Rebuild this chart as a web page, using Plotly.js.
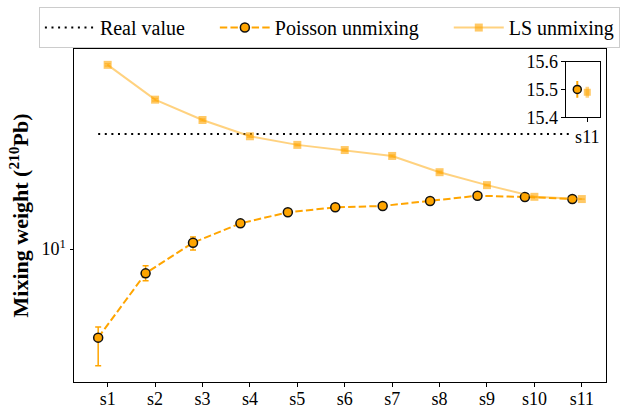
<!DOCTYPE html>
<html>
<head>
<meta charset="utf-8">
<script src="https://cdn.plot.ly/plotly-3.0.1.min.js"></script>
<style>body{margin:0;background:#fff}</style>
</head>
<body>
<div id="chart" style="width:620px;height:410px"></div>
<script>
// ---- data ----
const samples = ['s1','s2','s3','s4','s5','s6','s7','s8','s9','s10','s11'];
const poissonValues   = [4.60, 8.08, 10.57, 12.52, 13.79, 14.41, 14.58, 15.23, 15.95, 15.78, 15.50];
const poissonErrPlus  = [0.45, 0.55, 0.55, 0.15, 0.12, 0.10, 0.10, 0.08, 0.06, 0.05, 0.03];
const poissonErrMinus = [1.00, 0.50, 0.65, 0.15, 0.12, 0.10, 0.10, 0.08, 0.06, 0.05, 0.03];
const lsValues = [50.2, 37.0, 30.97, 26.85, 24.9, 23.8, 22.6, 19.6, 17.5, 15.8, 15.49];
const lsErr    = [0.5, 0.4, 0.3, 0.25, 0.2, 0.2, 0.2, 0.15, 0.1, 0.05, 0.02];
const realValue = 27.4;
const yTickVals = [10];
const yTickText = ['10<sup>1</sup>'];
const insetTickVals = [15.4, 15.5, 15.6];
const legendNames = ['Real value', 'Poisson unmixing', 'LS unmixing'];

// ---- positions derived from the category index ----
const idx = samples.map((_, i) => i);
const poissonX = idx.map(i => i - 0.2);
const lsX = idx.slice();
const last = samples.length - 1;
const pad = '\u00A0\u00A0\u00A0\u00A0\u00A0';

const FONT = 'Liberation Serif, Times New Roman, serif';
const ORANGE = '#FFA500';
const LS_LINE = 'rgba(255,165,0,0.5)';
const LS_MARK = 'rgba(255,165,0,0.6)';

const traces = [
  {
    name: legendNames[0] + pad, type: 'scatter', mode: 'lines',
    x: [poissonX[0], poissonX[last]], y: [realValue, realValue],
    line: {color: '#000', width: 2, dash: '2px,4.6px'},
    xaxis: 'x', yaxis: 'y', hoverinfo: 'skip'
  },
  {
    name: legendNames[1] + pad, type: 'scatter', mode: 'lines+markers',
    x: poissonX, y: poissonValues,
    line: {color: ORANGE, width: 2, dash: '7.4px,3.2px'},
    marker: {symbol: 'circle', size: 9, color: ORANGE, line: {color: '#111', width: 1.5}},
    error_y: {type: 'data', array: poissonErrPlus, arrayminus: poissonErrMinus, symmetric: false,
              color: ORANGE, thickness: 1.5, width: 3},
    xaxis: 'x', yaxis: 'y'
  },
  {
    name: legendNames[2], type: 'scatter', mode: 'lines+markers',
    x: lsX, y: lsValues,
    line: {color: LS_LINE, width: 2},
    marker: {symbol: 'square', size: 8, color: LS_MARK},
    error_y: {type: 'data', array: lsErr, color: LS_LINE, thickness: 1.5, width: 3},
    xaxis: 'x', yaxis: 'y'
  },
  // inset: s11 only
  {
    name: 'Poisson inset', type: 'scatter', mode: 'markers', showlegend: false,
    x: [poissonX[last]], y: [poissonValues[last]],
    marker: {symbol: 'circle', size: 8, color: ORANGE, line: {color: '#111', width: 1.5}},
    error_y: {type: 'data', array: [poissonErrPlus[last]], color: ORANGE, thickness: 2, width: 0},
    xaxis: 'x2', yaxis: 'y2'
  },
  {
    name: 'LS inset', type: 'scatter', mode: 'markers', showlegend: false,
    x: [lsX[last]], y: [lsValues[last]],
    marker: {symbol: 'square', size: 7, color: LS_MARK},
    error_y: {type: 'data', array: [lsErr[last]], color: LS_LINE, thickness: 3.5, width: 0},
    xaxis: 'x2', yaxis: 'y2'
  }
];

const axisCommon = {
  showline: true, linecolor: '#000', linewidth: 1, mirror: true,
  ticks: 'outside', ticklen: 3.5, tickwidth: 1, tickcolor: '#000',
  showgrid: false, zeroline: false,
  tickfont: {family: FONT, size: 18, color: '#000'}
};

const layout = {
  width: 620, height: 410,
  margin: {l: 74, r: 14, t: 49, b: 28, autoexpand: false},
  paper_bgcolor: '#fff', plot_bgcolor: '#fff',
  font: {family: FONT, size: 18, color: '#000'},
  showlegend: true,
  legend: {
    orientation: 'h', x: -0.066, xanchor: 'left', y: 1.126, yanchor: 'top',
    bordercolor: '#cccccc', borderwidth: 1, bgcolor: '#fff',
    font: {family: FONT, size: 20, color: '#000'},
    itemwidth: 50
  },
  xaxis: Object.assign({}, axisCommon, {
    domain: [0, 1], range: [-0.71, 10.51],
    tickmode: 'array', tickvals: idx, ticktext: samples,
    ticklabelstandoff: -3
  }),
  yaxis: Object.assign({}, axisCommon, {
    domain: [0, 1], type: 'log', range: [0.494, 1.761],
    tickmode: 'array', tickvals: yTickVals, ticktext: yTickText,
    title: {text: '<b>Mixing weight (<sup>210</sup>Pb)</b>', font: {family: FONT, size: 22, color: '#000'}, standoff: 6}
  }),
  xaxis2: Object.assign({}, axisCommon, {
    domain: [0.9248, 0.9887], range: [9.574, 10.254], anchor: 'y2',
    tickmode: 'array', tickvals: [idx[last]], ticktext: [samples[last]]
  }),
  yaxis2: Object.assign({}, axisCommon, {
    domain: [0.795, 0.962], range: [15.4, 15.6], anchor: 'x2',
    tickmode: 'array', tickvals: insetTickVals, ticktext: insetTickVals.map(v => v.toFixed(1))
  })
};

Plotly.newPlot('chart', traces, layout, {displayModeBar: false, staticPlot: true});
</script>
</body>
</html>
